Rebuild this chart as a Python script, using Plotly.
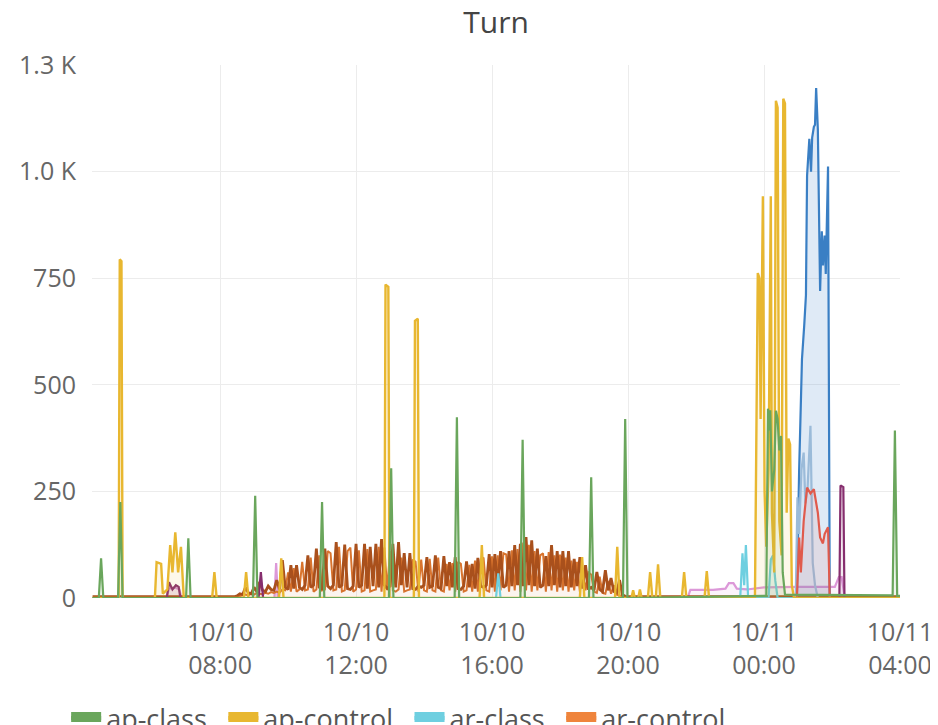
import plotly.graph_objects as go
import pandas as pd

YEAR = "2023/"

# ---------------- axis ticks ----------------
x_tickvals = ["10/10 08:00", "10/10 12:00", "10/10 16:00", "10/10 20:00", "10/11 00:00", "10/11 04:00"]
x_ticktext = ["10/10<br>08:00", "10/10<br>12:00", "10/10<br>16:00", "10/10<br>20:00", "10/11<br>00:00", "10/11<br>04:00"]
x_range = ["10/10 04:14", "10/11 04:00"]
y_tickvals = [0, 250, 500, 750, 1000, 1250]
y_ticktext = ["0", "250", "500", "750", "1.0 K", "1.3 K"]
legend_names = ["ap-class", "ap-control", "ar-class", "ar-control"]

# ---------------- series (sparse time/value lists) ----------------
ap_class_t = ["10/10 04:15", "10/10 04:26", "10/10 04:30", "10/10 04:34", "10/10 05:00", "10/10 05:04", "10/10 05:08",
              "10/10 07:00", "10/10 07:04", "10/10 07:08", "10/10 08:58", "10/10 09:02", "10/10 09:06",
              "10/10 10:56", "10/10 11:00", "10/10 11:04", "10/10 12:58", "10/10 13:02", "10/10 13:06",
              "10/10 14:54", "10/10 14:58", "10/10 15:02", "10/10 16:50", "10/10 16:54", "10/10 16:58",
              "10/10 18:51", "10/10 18:55", "10/10 18:59", "10/10 19:51", "10/10 19:55", "10/10 19:59",
              "10/11 00:04", "10/11 00:07", "10/11 00:09", "10/11 00:11", "10/11 00:14", "10/11 00:18",
              "10/11 00:21", "10/11 00:24", "10/11 00:27", "10/11 00:30", "10/11 00:33", "10/11 00:37",
              "10/11 03:47", "10/11 03:51", "10/11 03:55", "10/11 04:00"]
ap_class_v = [0, 0, 93, 0, 0, 225, 0,
              0, 140, 0, 0, 240, 0,
              0, 225, 0, 0, 304, 0,
              0, 424, 0, 0, 371, 0,
              0, 283, 0, 0, 420, 0,
              5, 444, 393, 440, 250, 300,
              439, 420, 346, 380, 60, 8,
              6, 393, 5, 5]

ap_control_t = ["10/10 04:15", "10/10 05:01", "10/10 05:03", "10/10 05:06", "10/10 05:08",
                "10/10 06:05", "10/10 06:08", "10/10 06:16", "10/10 06:19", "10/10 06:27", "10/10 06:32",
                "10/10 06:36", "10/10 06:41", "10/10 06:46", "10/10 06:51", "10/10 06:56",
                "10/10 07:46", "10/10 07:50", "10/10 07:54", "10/10 08:42", "10/10 08:46", "10/10 08:50",
                "10/10 09:44", "10/10 09:48", "10/10 09:52", "10/10 12:50", "10/10 12:52", "10/10 12:57", "10/10 12:59",
                "10/10 13:42", "10/10 13:44", "10/10 13:49", "10/10 13:51", "10/10 15:38", "10/10 15:42", "10/10 15:46",
                "10/10 18:35", "10/10 18:39", "10/10 18:43", "10/10 19:37", "10/10 19:41", "10/10 19:45",
                "10/10 20:06", "10/10 20:09", "10/10 20:12", "10/10 20:18", "10/10 20:21", "10/10 20:24",
                "10/10 20:35", "10/10 20:39", "10/10 20:43", "10/10 20:49", "10/10 20:53", "10/10 20:57",
                "10/10 21:35", "10/10 21:39", "10/10 21:43", "10/10 22:15", "10/10 22:19", "10/10 22:23",
                "10/10 23:44", "10/10 23:47", "10/10 23:49", "10/10 23:52", "10/10 23:54", "10/10 23:58",
                "10/11 00:01", "10/11 00:04", "10/11 00:08", "10/11 00:12", "10/11 00:14", "10/11 00:18",
                "10/11 00:21", "10/11 00:24", "10/11 00:27", "10/11 00:31", "10/11 00:34", "10/11 00:37",
                "10/11 00:40", "10/11 00:43", "10/11 00:46", "10/11 00:49", "10/11 00:53", "10/11 04:00"]
ap_control_v = [0, 0, 794, 790, 0,
                0, 84, 80, 10, 20, 124,
                60, 154, 60, 120, 0,
                0, 61, 0, 0, 61, 0,
                0, 93, 0, 0, 735, 730, 0,
                0, 650, 655, 0, 0, 124, 0,
                0, 96, 0, 0, 120, 0,
                0, 18, 0, 0, 20, 0,
                0, 61, 0, 0, 79, 0,
                0, 61, 0, 0, 63, 0,
                0, 380, 762, 750, 420, 942,
                250, 120, 300, 942, 200, 60,
                1166, 1150, 180, 100, 1171, 1160,
                200, 374, 360, 30, 0, 0]

ar_class_t = ["10/10 04:15", "10/10 16:07", "10/10 16:11", "10/10 16:15", "10/10 23:18", "10/10 23:22",
              "10/10 23:25", "10/10 23:28", "10/10 23:32", "10/11 00:08", "10/11 00:12", "10/11 00:16",
              "10/11 00:20", "10/11 00:24", "10/11 04:00"]
ar_class_v = [0, 0, 58, 0, 0, 105,
              30, 124, 0, 0, 90, 100,
              40, 0, 0]

# dense region, 5-minute samples starting 10/10 08:30
dense_start = "2023-10-10 08:30"
ar_control_v = [3, 5, 6, 8, 6, 10, 8, 12, 10, 9,
                12, 10, 14, 12, 15, 12, 20, 18, 60, 15,
                70, 15, 20, 85, 18, 20, 95, 15, 20, 100,
                18, 20, 110, 105, 18, 20, 120, 15, 18, 110,
                118, 15, 20, 112, 15, 18, 115, 15, 18, 20,
                120, 15, 118, 20, 110, 18, 15, 20, 95, 15,
                18, 20, 90, 85, 15, 90, 18, 15, 92, 18,
                15, 95, 18, 15, 80, 18, 82, 15, 85, 80,
                15, 18, 78, 15, 88, 15, 90, 95, 18, 15,
                98, 15, 100, 18, 105, 102, 15, 112, 18, 115,
                15, 130, 18, 125, 15, 110, 18, 100, 105, 15,
                108, 18, 100, 15, 102, 18, 95, 15, 88, 18,
                85, 15, 70, 18, 60, 55, 15, 12, 50, 12,
                10, 40, 10, 30, 8, 6, 4, 2]
brown_v = [5, 10, 8, 25, 12, 10, 25, 15, 38, 18,
           15, 28, 20, 18, 42, 20, 89, 25, 20, 77,
           22, 77, 25, 20, 30, 100, 25, 30, 116, 25,
           20, 116, 28, 22, 30, 131, 25, 30, 125, 22,
           20, 28, 127, 25, 30, 127, 22, 120, 28, 127,
           25, 138, 30, 22, 28, 127, 25, 131, 30, 105,
           25, 105, 22, 20, 28, 25, 30, 96, 25, 28,
           100, 25, 22, 98, 28, 84, 25, 96, 22, 20,
           28, 86, 25, 80, 22, 94, 28, 25, 30, 103,
           25, 103, 28, 110, 25, 30, 110, 28, 124, 30,
           127, 28, 143, 30, 135, 28, 116, 25, 30, 98,
           28, 124, 30, 110, 25, 110, 28, 110, 25, 92,
           28, 96, 22, 77, 20, 25, 18, 61, 20, 15,
           65, 18, 47, 15, 12, 42, 8, 4]
brown_pre_t = ["10/10 04:15", "10/10 08:25"]
brown_pre_v = [3, 3]
brown_post_t = ["10/10 20:00", "10/11 04:00"]
brown_post_v = [3, 3]

blue_t = ["10/10 04:15", "10/11 00:58", "10/11 01:02", "10/11 01:07", "10/11 01:11", "10/11 01:14", "10/11 01:16",
          "10/11 01:20", "10/11 01:23", "10/11 01:25", "10/11 01:28", "10/11 01:30", "10/11 01:32",
          "10/11 01:35", "10/11 01:39", "10/11 01:42", "10/11 01:44", "10/11 01:47", "10/11 01:49",
          "10/11 01:53", "10/11 01:56", "10/11 04:00"]
blue_v = [0, 0, 300, 560, 640, 710, 990,
          1077, 1000, 1080, 1105, 1110, 1196,
          1100, 720, 860, 780, 850, 760,
          1012, 0, 0]

steel_t = ["10/10 04:15", "10/11 00:56", "10/11 00:59", "10/11 01:02", "10/11 01:06", "10/11 01:10", "10/11 01:13",
           "10/11 01:17", "10/11 01:22", "10/11 01:26", "10/11 01:30", "10/11 01:35", "10/11 04:00"]
steel_v = [0, 0, 236, 150, 300, 341, 222,
           260, 404, 82, 30, 0, 0]

red_t = ["10/10 04:15", "10/11 00:58", "10/11 01:02", "10/11 01:05", "10/11 01:10", "10/11 01:16", "10/11 01:22",
         "10/11 01:28", "10/11 01:35", "10/11 01:39", "10/11 01:44", "10/11 01:47", "10/11 01:53",
         "10/11 01:56", "10/11 04:00"]
red_v = [0, 0, 142, 60, 180, 259, 245,
         255, 200, 142, 128, 150, 166,
         0, 0]

purple_t = ["10/10 04:15", "10/10 06:26", "10/10 06:30", "10/10 06:36", "10/10 06:42", "10/10 06:47", "10/10 06:50",
            "10/10 09:08", "10/10 09:12", "10/10 09:16", "10/11 02:13", "10/11 02:15", "10/11 02:20",
            "10/11 02:22", "10/11 04:00"]
purple_v = [0, 0, 37, 20, 30, 26, 0,
            0, 61, 0, 0, 264, 260,
            0, 0]

pink_t = ["10/10 04:15", "10/10 06:25", "10/10 06:30", "10/10 06:40", "10/10 06:48", "10/10 06:52",
          "10/10 09:36", "10/10 09:39", "10/10 09:42", "10/10 21:45", "10/10 21:50", "10/10 22:30",
          "10/10 22:52", "10/10 22:58", "10/10 23:06", "10/10 23:12", "10/10 23:30", "10/11 00:00",
          "10/11 01:00", "10/11 02:05", "10/11 02:12", "10/11 02:17", "10/11 02:22", "10/11 02:30", "10/11 04:00"]
pink_v = [0, 0, 22, 25, 20, 0,
          0, 82, 0, 0, 19, 19,
          22, 35, 35, 22, 20, 25,
          26, 26, 49, 49, 5, 0, 0]

# ---------------- colours ----------------
C_GREEN = "#6aa65c"
C_YELLOW = "#e8b730"
C_CYAN = "#6ecfe0"
C_ORANGE = "#d9742e"
C_BROWN = "#a9501c"
C_BLUE = "#3a7fc4"
C_STEEL = "#9bbbd9"
C_RED = "#e05a4c"
C_PURPLE = "#862e6e"
C_PINK = "#dc98d8"
C_LEG_ORANGE = "#ef843c"
legend_colors = [C_GREEN, C_YELLOW, C_CYAN, C_LEG_ORANGE]


def ts(lst):
    return pd.to_datetime([YEAR + s for s in lst], format="%Y/%m/%d %H:%M")


def rgba(hex_color, a):
    h = hex_color.lstrip("#")
    r, g, b = int(h[0:2], 16), int(h[2:4], 16), int(h[4:6], 16)
    return f"rgba({r},{g},{b},{a})"


fig = go.Figure()


def add_line(x, y, color, name, fill_alpha=0.10, width=2.2):
    fig.add_trace(go.Scatter(
        x=x, y=y, mode="lines", name=name, showlegend=False,
        line=dict(color=color, width=width),
        fill="tozeroy", fillcolor=rgba(color, fill_alpha),
        hoverinfo="x+y+name",
    ))


dense_t = pd.date_range(dense_start, periods=len(brown_v), freq="5min")

add_line(ts(pink_t), pink_v, C_PINK, "pink")
add_line(pd.date_range(dense_start, periods=len(ar_control_v), freq="5min"), ar_control_v, C_ORANGE,
         "ar-control", fill_alpha=0.03, width=2.0)
add_line(list(ts(brown_pre_t)) + list(dense_t) + list(ts(brown_post_t)),
         brown_pre_v + brown_v + brown_post_v, C_BROWN, "brown", fill_alpha=0.04, width=2.8)
add_line(ts(purple_t), purple_v, C_PURPLE, "purple")
add_line(ts(blue_t), blue_v, C_BLUE, "blue", fill_alpha=0.16)
add_line(ts(steel_t), steel_v, C_STEEL, "steel")
add_line(ts(red_t), red_v, C_RED, "red")
add_line(ts(ar_class_t), ar_class_v, C_CYAN, "ar-class")
add_line(ts(ap_control_t), ap_control_v, C_YELLOW, "ap-control", width=2.4)
add_line(ts(ap_class_t), ap_class_v, C_GREEN, "ap-class")

# legend entries (solid colour swatches); a small trailing gap widens each entry
for rank, (nm, col) in enumerate(zip(legend_names, legend_colors), start=1):
    fig.add_trace(go.Scatter(
        x=[None], y=[None], mode="lines", name=nm + "\u00a0\u2009", legendrank=rank,
        line=dict(color=col, width=8), fill="toself", fillcolor=col,
        hoverinfo="skip",
    ))

TICK_FONT = dict(family="Open Sans, sans-serif", size=25, color="#666666")

# the page body adds an 8px offset, so the figure is drawn 8px smaller
fig.update_layout(
    width=930, height=717,
    paper_bgcolor="white", plot_bgcolor="white",
    margin=dict(l=84, r=38, t=57, b=127, autoexpand=False),
    title=dict(text="Turn", x=0.5, xref="paper", xanchor="center",
               y=1 - 14 / 717, yref="container", yanchor="middle",
               font=dict(family="Open Sans, sans-serif", size=30, color="#444444")),
    xaxis=dict(
        type="date", range=[ts(x_range)[0], ts(x_range)[1]],
        tickvals=ts(x_tickvals), ticktext=x_ticktext,
        showgrid=True, gridcolor="#ececec", gridwidth=1,
        zeroline=False, showline=False,
        ticks="outside", ticklen=12, tickcolor="rgba(0,0,0,0)",
        tickfont=TICK_FONT,
    ),
    yaxis=dict(
        range=[0, 1250], tickvals=y_tickvals, ticktext=y_ticktext,
        showgrid=True, gridcolor="#ececec", gridwidth=1,
        zeroline=False, showline=False,
        ticks="outside", ticklen=10, tickcolor="rgba(0,0,0,0)",
        tickfont=TICK_FONT,
    ),
    legend=dict(
        orientation="h", x=-0.032, xanchor="left", y=-0.18, yanchor="top",
        font=dict(family="Open Sans, sans-serif", size=27, color="#555555"),
        itemwidth=30, bgcolor="rgba(0,0,0,0)",
    ),
    showlegend=True,
)

fig.write_html("out.html")
